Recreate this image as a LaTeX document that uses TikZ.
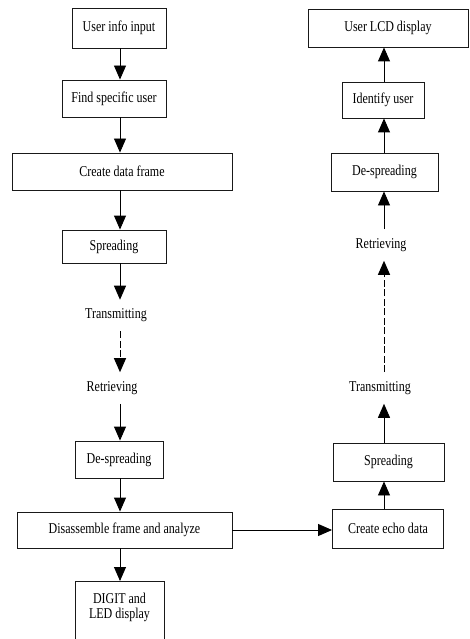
\documentclass[tikz,border=0pt]{standalone}
\usepackage{fontspec}
\setmainfont{Liberation Serif}[FakeStretch=0.8]
\usetikzlibrary{arrows.meta}

\begin{document}
\begin{tikzpicture}[x=1pt,y=-1pt]
    \tikzset{BoxStyle/.style = {%
        shape= rectangle,
        draw= black!90,
        line width= 0.9pt,
        inner sep= 0pt,
        font= \fontsize{15}{14.5}\selectfont},
      LabelStyle/.style = {%
        inner xsep= 0pt,
        inner ysep= 9pt,
        font= \fontsize{15}{14.5}\selectfont},
      EdgeStyle/.style = {%
        line width= 0.9pt,
        -{Triangle[length=14pt,width=12pt]}},
      DashStyle/.style = {EdgeStyle,
        line width= 1pt,
        dash pattern= on 7pt off 2.5pt}}
    \clip (0,0) rectangle (470,639);
    \coordinate (LeftAxis) at (120,0);
    \coordinate (RightAxis) at (384,0);
    % sender side
    \node[BoxStyle, minimum width=94pt, minimum height=40pt] (input) at (119,28) {User info input};
    \node[BoxStyle, minimum width=104pt, minimum height=37pt] (findu) at (114,98.5) {Find specific user};
    \node[BoxStyle, minimum width=220pt, minimum height=37pt] (frame) at (122,171.5) {Create data frame};
    \node[BoxStyle, minimum width=104pt, minimum height=33pt] (spread1) at (114,246.5) {Spreading};
    \node[LabelStyle] (trans1) at (116,315.5) {Transmitting};
    \node[LabelStyle] (retr1) at (112,388) {Retrieving};
    \node[BoxStyle, minimum width=88pt, minimum height=37pt] (despr1) at (119,459.5) {De-spreading};
    \node[BoxStyle, minimum width=215pt, minimum height=36pt] (disasm) at (124.5,530) {Disassemble frame and analyze};
    \node[BoxStyle, align=center, minimum width=89pt, anchor=north, inner ysep=12pt, text depth=55pt] (digit) at (119.5,581) {DIGIT and\\LED display};
    % echo side
    \node[BoxStyle, minimum width=111pt, minimum height=39pt] (echo) at (388,528.5) {Create echo data};
    \node[BoxStyle, minimum width=111pt, minimum height=38pt] (spread2) at (388.5,462) {Spreading};
    \node[LabelStyle] (trans2) at (380,388) {Transmitting};
    \node[LabelStyle] (retr2) at (381,245) {Retrieving};
    \node[BoxStyle, minimum width=107pt, minimum height=38pt] (despr2) at (384.5,172) {De-spreading};
    \node[BoxStyle, minimum width=82pt, minimum height=36pt] (ident) at (383,100) {Identify user};
    \node[BoxStyle, minimum width=160pt, minimum height=38pt] (lcd) at (388,28) {User LCD display};

    \draw[EdgeStyle] (LeftAxis |- input.south) -- (LeftAxis |- findu.north);
    \draw[EdgeStyle] (LeftAxis |- findu.south) -- (LeftAxis |- frame.north);
    \draw[EdgeStyle] (LeftAxis |- frame.south) -- (LeftAxis |- spread1.north);
    \draw[EdgeStyle] (LeftAxis |- spread1.south) -- (LeftAxis |- trans1.north);
    \draw[DashStyle] (LeftAxis |- trans1.south) -- (LeftAxis |- retr1.north);
    \draw[EdgeStyle] (LeftAxis |- retr1.south) -- (LeftAxis |- despr1.north);
    \draw[EdgeStyle] (LeftAxis |- despr1.south) -- (LeftAxis |- disasm.north);
    \draw[EdgeStyle] (LeftAxis |- disasm.south) -- (LeftAxis |- digit.north);
    \draw[EdgeStyle] (disasm.east) -- (disasm.east -| echo.west);
    \draw[EdgeStyle] (RightAxis |- echo.north) -- (RightAxis |- spread2.south);
    \draw[EdgeStyle] (RightAxis |- spread2.north) -- (RightAxis |- trans2.south);
    \draw[DashStyle] (RightAxis |- trans2.north) -- (RightAxis |- retr2.south);
    \draw[EdgeStyle] (RightAxis |- retr2.north) -- (RightAxis |- despr2.south);
    \draw[EdgeStyle] (RightAxis |- despr2.north) -- (RightAxis |- ident.south);
    \draw[EdgeStyle] (RightAxis |- ident.north) -- (RightAxis |- lcd.south);
  \end{tikzpicture}
\end{document}
